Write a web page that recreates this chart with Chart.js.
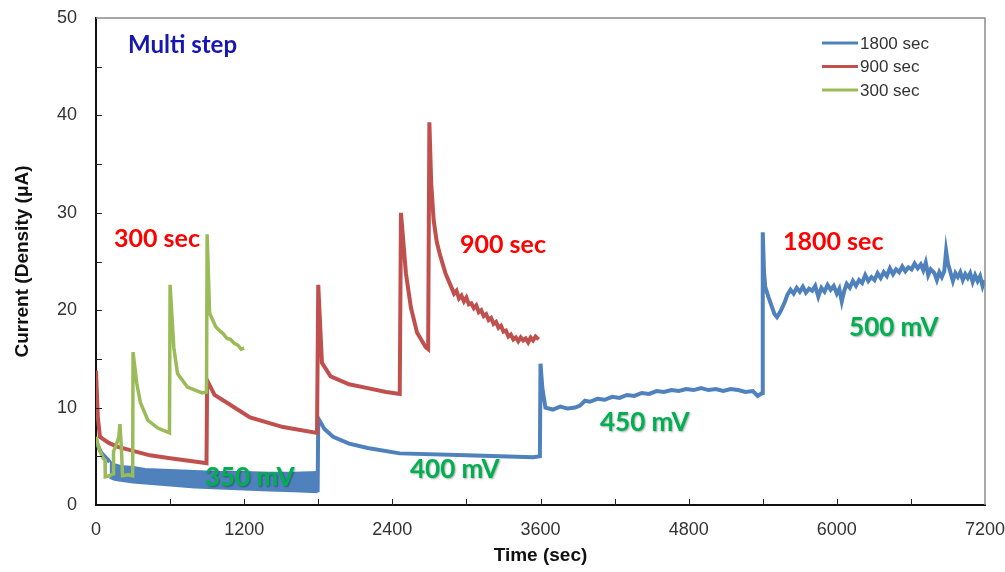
<!DOCTYPE html>
<html>
<head>
<meta charset="utf-8">
<title>Multi step chronoamperometry</title>
<script src="https://cdn.jsdelivr.net/npm/chart.js@4/dist/chart.umd.min.js"></script>
<style>
  html, body { margin: 0; padding: 0; background: #fff; }
  #wrap { width: 1005px; height: 572px; position: relative; }
</style>
</head>
<body>
<div id="wrap"><canvas id="chart"></canvas></div>
<script>
// ---------------------------------------------------------------------------
// Data (time in sec, current in µA)
// ---------------------------------------------------------------------------
const seriesLabels = ['1800 sec', '900 sec', '300 sec'];

// null breaks the line where the dense band (below) takes over
const blueTimes = [0, 40, 100, 110, 500, 1795,
  1800, 1850, 1920, 2050, 2200, 2460, 3000, 3540, 3595,
  3600, 3615, 3640, 3700, 3760, 3820, 3880, 3920, 3960, 4000, 4060, 4120, 4180, 4240, 4300, 4360,
  4420, 4480, 4540, 4600, 4660, 4720, 4780, 4840, 4900, 4960, 5020, 5080, 5140, 5200, 5260, 5320, 5360, 5395,
  5400, 5410, 5420, 5445, 5470, 5495, 5515, 5540, 5560, 5580, 5600, 5625, 5650, 5675, 5700, 5725, 5750,
  5775, 5800, 5825, 5850, 5875, 5900, 5925, 5950, 5975, 6000, 6020, 6040, 6060, 6080, 6105, 6130, 6155,
  6180, 6205, 6230, 6255, 6280, 6305, 6330, 6355, 6380, 6405, 6430, 6455, 6480, 6505, 6530, 6555, 6580,
  6605, 6630, 6655, 6680, 6700, 6720, 6740, 6760, 6790, 6810, 6830, 6850, 6870, 6885, 6900, 6920, 6940,
  6960, 6980, 7000, 7020, 7040, 7060, 7080, 7100, 7120, 7140, 7160, 7180, 7195];
const blueCurrent = [6.5, 5.4, 4.6, 4.4, null, 1.3,
  8.9, 7.8, 7.0, 6.3, 5.85, 5.3, 5.1, 4.9, 5.0,
  14.5, 12.0, 10.0, 9.8, 10.1, 9.9, 10.0, 10.2, 10.7, 10.6, 10.9, 10.8, 11.1, 11.0, 11.3, 11.2,
  11.5, 11.4, 11.7, 11.6, 11.8, 11.7, 11.9, 11.8, 12.0, 11.8, 11.9, 11.7, 11.9, 11.8, 11.6, 11.7, 11.2, 11.5,
  28.0, 24.0, 22.4, 21.4, 20.5, 19.6, 19.3, 19.8, 20.3, 20.9, 21.6, 22.1, 21.7, 22.3, 21.9, 22.4, 21.8,
  22.2, 22.0, 22.5, 21.4, 22.3, 21.9, 22.6, 22.1, 22.5, 21.7, 22.2, 20.9, 22.0, 22.7, 22.3, 23.0, 22.5,
  23.1, 22.8, 23.6, 23.0, 23.4, 23.1, 23.8, 23.3, 23.9, 23.5, 24.3, 23.7, 24.2, 23.9, 24.5, 24.0, 24.4,
  24.2, 24.8, 24.3, 24.7, 24.1, 24.9, 23.6, 24.2, 23.8, 23.1, 23.9, 23.4, 24.0, 26.1, 24.8, 23.9, 23.0,
  23.8, 23.4, 23.9, 23.1, 23.7, 23.3, 23.8, 22.9, 23.6, 23.0, 23.5, 22.5, 23.1];

// the dense, noisy 350 mV part of the 1800 sec run
const bandTimes = [110, 150, 200, 300, 400, 600, 800, 1000, 1200, 1400, 1600, 1795];
const bandUpper = [4.5, 4.2, 4.0, 3.9, 3.7, 3.6, 3.5, 3.4, 3.4, 3.3, 3.3, 3.4];
const bandLower = [2.8, 2.6, 2.5, 2.3, 2.2, 2.0, 1.8, 1.7, 1.6, 1.5, 1.4, 1.3];

const redTimes = [0, 15, 32, 100, 170, 437, 600, 842, 895,
  900, 960, 1061, 1247, 1515, 1790,
  1800, 1830, 1900, 2050, 2200, 2350, 2460,
  2470, 2510, 2550, 2600, 2670, 2690,
  2700, 2715, 2735, 2760, 2790, 2830, 2870, 2900, 2920, 2940, 2960, 2980, 3000, 3020, 3040, 3060,
  3080, 3100, 3120, 3140, 3160, 3180, 3200, 3220, 3240, 3260, 3280, 3300, 3320, 3340, 3360, 3380,
  3400, 3420, 3440, 3460, 3480, 3500, 3520, 3540, 3560, 3585];
const redCurrent = [13.8, 9.0, 7.0, 6.4, 6.0, 5.1, 4.8, 4.4, 4.3,
  12.8, 11.3, 10.5, 9.0, 8.0, 7.4,
  22.6, 14.6, 13.2, 12.4, 12.0, 11.6, 11.4,
  30.0, 23.8, 20.3, 17.7, 16.2, 16.0,
  39.3, 33.0, 29.2, 27.0, 25.5, 23.8, 22.6, 21.7, 22.0, 21.2, 21.5, 20.9, 21.3, 20.6, 20.7, 20.2,
  20.5, 19.8, 20.0, 19.4, 19.6, 19.0, 19.2, 18.6, 18.8, 18.2, 18.4, 17.8, 17.9, 17.3, 17.5, 17.0,
  17.2, 16.8, 17.2, 16.9, 17.1, 16.7, 17.2, 16.9, 17.3, 17.0];

const greenTimes = [0, 30, 57, 73, 75, 110, 138, 142, 165, 185, 194, 205, 215, 260, 297,
  300, 330, 360, 420, 500, 595,
  600, 630, 660, 740, 860, 895,
  900, 920, 970, 1000, 1030, 1060, 1090, 1120, 1150, 1175, 1200];
const greenCurrent = [7.0, 5.6, 4.8, 4.6, 2.9, 3.0, 3.2, 5.5, 6.2, 7.0, 8.3, 6.0, 3.0, 3.1, 3.0,
  15.7, 12.5, 10.5, 8.7, 7.9, 7.4,
  22.6, 16.2, 13.5, 12.1, 11.5, 11.6,
  27.8, 19.7, 18.3, 17.9, 17.6, 17.1, 17.0, 16.6, 16.4, 16.0, 16.1];

const xTicks = { min: 0, max: 7200, step: 1200, minor: 600 };
const yTicks = { min: 0, max: 50, step: 10, minor: 5 };

// text written on the plot, anchored in data units
const notes = [
  { text: 'Multi step', x: 259, y: 47.2, color: '#1616b4', size: 24 },
  { text: '300 sec', x: 146, y: 27.3, color: '#ff0000', size: 25 },
  { text: '900 sec', x: 2948, y: 26.7, color: '#ff0000', size: 25 },
  { text: '1800 sec', x: 5564, y: 27.0, color: '#ff0000', size: 25 },
  { text: '350 mV', x: 883, y: 2.8, color: '#00b050', size: 26, shadow: true },
  { text: '400 mV', x: 2543, y: 3.6, color: '#00b050', size: 26, shadow: true },
  { text: '450 mV', x: 4082, y: 8.5, color: '#00b050', size: 26, shadow: true },
  { text: '500 mV', x: 6099, y: 18.2, color: '#00b050', size: 26, shadow: true }
];

const COLORS = { blue: '#4f81bd', red: '#c0504d', green: '#9bbb59' };

function toPoints(xs, ys) {
  return xs.map((x, i) => ({ x: x, y: ys[i] }));
}

// ---------------------------------------------------------------------------
// Plugin: frame, inner tick marks, legend box and text notes
// ---------------------------------------------------------------------------
const decorPlugin = {
  id: 'decor',
  afterDatasetsDraw(chart) {
    const { ctx, chartArea: a, scales } = chart;
    const xs = scales.x, ys = scales.y;
    ctx.save();

    // top and right edge of the plot box
    ctx.strokeStyle = '#8c8c8c';
    ctx.lineWidth = 1.5;
    ctx.beginPath();
    ctx.moveTo(a.left, a.top);
    ctx.lineTo(a.right, a.top);
    ctx.lineTo(a.right, a.bottom);
    ctx.stroke();

    // tick marks pointing into the plot
    ctx.strokeStyle = '#222';
    ctx.lineWidth = 1;
    ctx.beginPath();
    for (let v = xTicks.min + xTicks.minor; v < xTicks.max; v += xTicks.minor) {
      const px = Math.round(xs.getPixelForValue(v)) + 0.5;
      ctx.moveTo(px, a.bottom);
      ctx.lineTo(px, a.bottom - 6);
    }
    for (let v = yTicks.min + yTicks.minor; v < yTicks.max; v += yTicks.minor) {
      const py = Math.round(ys.getPixelForValue(v)) + 0.5;
      ctx.moveTo(a.left, py);
      ctx.lineTo(a.left + 6, py);
    }
    ctx.stroke();

    // legend (first three datasets)
    ctx.font = '17px "Liberation Sans", Arial, sans-serif';
    ctx.textBaseline = 'middle';
    ctx.textAlign = 'left';
    const legendX = a.right - 163, legendY = a.top + 25, rowH = 23.5;
    chart.data.datasets.slice(0, 3).forEach((ds, i) => {
      const y = legendY + i * rowH;
      ctx.strokeStyle = ds.borderColor;
      ctx.lineWidth = 3;
      ctx.beginPath();
      ctx.moveTo(legendX, y);
      ctx.lineTo(legendX + 36, y);
      ctx.stroke();
      ctx.fillStyle = '#333';
      ctx.fillText(ds.label, legendX + 38, y + 1);
    });

    // notes
    notes.forEach(n => {
      ctx.font = 'bold ' + n.size + 'px Lato, "Open Sans", sans-serif';
      ctx.fillStyle = n.color;
      if (n.shadow) {
        ctx.shadowColor = 'rgba(0,0,0,0.35)';
        ctx.shadowOffsetX = 1;
        ctx.shadowOffsetY = 1;
        ctx.shadowBlur = 2;
      } else {
        ctx.shadowColor = 'transparent';
      }
      ctx.fillText(n.text, xs.getPixelForValue(n.x), ys.getPixelForValue(n.y));
    });
    ctx.restore();
  }
};

// ---------------------------------------------------------------------------
// Chart
// ---------------------------------------------------------------------------
const tickFont = { size: 18, family: '"Liberation Sans", Arial, sans-serif' };
const titleFont = { size: 19, family: '"Liberation Sans", Arial, sans-serif', weight: 'bold' };

new Chart(document.getElementById('chart').getContext('2d'), {
  type: 'line',
  data: {
    datasets: [
      {
        label: seriesLabels[0],
        data: toPoints(blueTimes, blueCurrent),
        borderColor: COLORS.blue,
        borderWidth: 4,
        pointRadius: 0,
        tension: 0,
        spanGaps: false,
        order: 3
      },
      {
        label: seriesLabels[1],
        data: toPoints(redTimes, redCurrent),
        borderColor: COLORS.red,
        borderWidth: 4,
        pointRadius: 0,
        tension: 0,
        order: 2
      },
      {
        label: seriesLabels[2],
        data: toPoints(greenTimes, greenCurrent),
        borderColor: COLORS.green,
        borderWidth: 3.5,
        pointRadius: 0,
        tension: 0,
        order: 1
      },
      {
        label: 'band upper',
        data: toPoints(bandTimes, bandUpper),
        borderColor: COLORS.blue,
        backgroundColor: COLORS.blue,
        borderWidth: 2,
        pointRadius: 0,
        tension: 0,
        fill: '+1',
        order: 4
      },
      {
        label: 'band lower',
        data: toPoints(bandTimes, bandLower),
        borderColor: COLORS.blue,
        borderWidth: 2,
        pointRadius: 0,
        tension: 0,
        fill: false,
        order: 5
      }
    ]
  },
  options: {
    responsive: true,
    maintainAspectRatio: false,
    animation: false,
    layout: { padding: { top: 18, right: 20, left: 0, bottom: 0 } },
    plugins: {
      legend: { display: false },
      tooltip: { enabled: false },
      title: { display: false }
    },
    scales: {
      x: {
        type: 'linear',
        min: xTicks.min,
        max: xTicks.max,
        grid: { display: false, drawTicks: false },
        border: { display: true, color: '#111', width: 2 },
        ticks: {
          stepSize: xTicks.step,
          font: tickFont,
          color: '#333',
          padding: 14,
          maxRotation: 0,
          callback: v => String(v)
        },
        title: {
          display: true,
          text: 'Time (sec)',
          font: titleFont,
          color: '#111',
          padding: { top: 0, bottom: 5 }
        },
        afterFit(scale) {
          scale.height = 67;
          scale.paddingLeft = 0;
          scale.paddingRight = 0;
        }
      },
      y: {
        min: yTicks.min,
        max: yTicks.max,
        grid: { display: false, drawTicks: false },
        border: { display: true, color: '#111', width: 2 },
        ticks: {
          stepSize: yTicks.step,
          font: tickFont,
          color: '#333',
          padding: 19
        },
        title: {
          display: true,
          text: 'Current (Density (μA)',
          font: titleFont,
          color: '#111',
          padding: { top: 11, bottom: 0 }
        },
        afterFit(scale) {
          scale.width = 96;
          scale.paddingTop = 0;
          scale.paddingBottom = 0;
        }
      }
    }
  },
  plugins: [decorPlugin]
});
</script>
</body>
</html>
